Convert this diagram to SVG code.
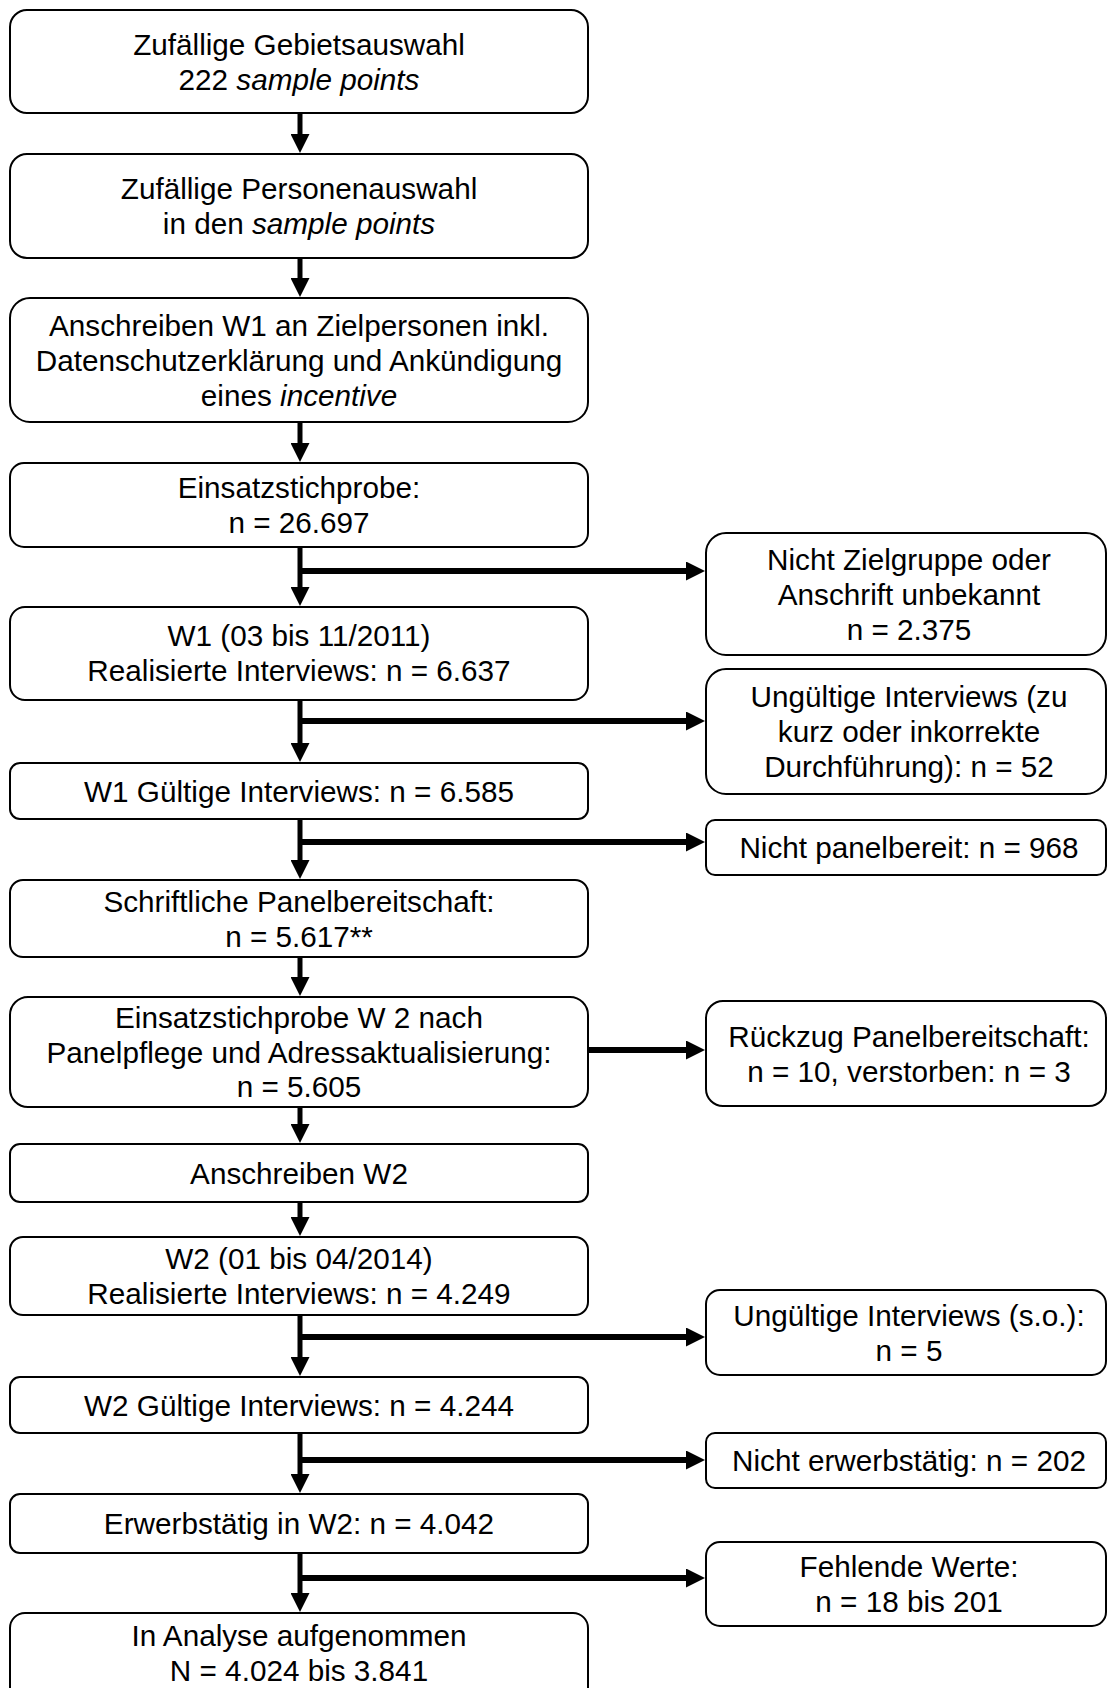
<svg xmlns="http://www.w3.org/2000/svg" width="1108" height="1688" viewBox="0 0 1108 1688">
<defs>
<style>
.box{fill:#fff;stroke:#000;stroke-width:2}
.t{font-family:"Liberation Sans",Arial,sans-serif;font-size:29.7px;fill:#000;text-anchor:middle}
.i{font-style:italic}
.c{stroke:#000;stroke-width:5;fill:none}
.h{stroke:#000;stroke-width:6;fill:none}
</style>
<marker id="ah" markerUnits="userSpaceOnUse" markerWidth="19" markerHeight="19" refX="1" refY="9.5" orient="auto" viewBox="0 0 19 19">
<path d="M0,0 L19,9.5 L0,19 z" fill="#000"/>
</marker>
</defs>
<rect width="1108" height="1688" fill="#fff"/>
<g id="connectors">
<path class="c" d="M300,113 V135" marker-end="url(#ah)"/>
<path class="c" d="M300,258 V279" marker-end="url(#ah)"/>
<path class="c" d="M300,422 V444" marker-end="url(#ah)"/>
<path class="c" d="M300,547 V588" marker-end="url(#ah)"/>
<path class="h" d="M300,571 H687" marker-end="url(#ah)"/>
<path class="c" d="M300,700 V744" marker-end="url(#ah)"/>
<path class="h" d="M300,721 H687" marker-end="url(#ah)"/>
<path class="c" d="M300,819 V861" marker-end="url(#ah)"/>
<path class="h" d="M300,842 H687" marker-end="url(#ah)"/>
<path class="c" d="M300,957 V978" marker-end="url(#ah)"/>
<path class="h" d="M588,1050 H687" marker-end="url(#ah)"/>
<path class="c" d="M300,1107 V1125" marker-end="url(#ah)"/>
<path class="c" d="M300,1202 V1218" marker-end="url(#ah)"/>
<path class="c" d="M300,1315 V1358" marker-end="url(#ah)"/>
<path class="h" d="M300,1337 H687" marker-end="url(#ah)"/>
<path class="c" d="M300,1433 V1475" marker-end="url(#ah)"/>
<path class="h" d="M300,1460 H687" marker-end="url(#ah)"/>
<path class="c" d="M300,1553 V1594" marker-end="url(#ah)"/>
<path class="h" d="M300,1578 H687" marker-end="url(#ah)"/>
</g>
<g id="n1"><rect class="box" x="10" y="10" width="578" height="103" rx="17"/>
<text class="t" x="299" y="54.5">Zufällige Gebietsauswahl</text>
<text class="t" x="299" y="89.5">222 <tspan class="i">sample points</tspan></text></g>
<g id="n2"><rect class="box" x="10" y="154" width="578" height="104" rx="17"/>
<text class="t" x="299" y="199">Zufällige Personenauswahl</text>
<text class="t" x="299" y="234">in den <tspan class="i">sample points</tspan></text></g>
<g id="n3"><rect class="box" x="10" y="298" width="578" height="124" rx="20"/>
<text class="t" x="299" y="335.5">Anschreiben W1 an Zielpersonen inkl.</text>
<text class="t" x="299" y="370.5">Datenschutzerklärung und Ankündigung</text>
<text class="t" x="299" y="405.5">eines <tspan class="i">incentive</tspan></text></g>
<g id="n4"><rect class="box" x="10" y="463" width="578" height="84" rx="14"/>
<text class="t" x="299" y="498">Einsatzstichprobe:</text>
<text class="t" x="299" y="533">n = 26.697</text></g>
<g id="n5"><rect class="box" x="10" y="607" width="578" height="93" rx="15"/>
<text class="t" x="299" y="646">W1 (03 bis 11/2011)</text>
<text class="t" x="299" y="681">Realisierte Interviews: n = 6.637</text></g>
<g id="n6"><rect class="box" x="10" y="763" width="578" height="56" rx="10"/>
<text class="t" x="299" y="801.5">W1 Gültige Interviews: n = 6.585</text></g>
<g id="n7"><rect class="box" x="10" y="880" width="578" height="77" rx="13"/>
<text class="t" x="299" y="911.5">Schriftliche Panelbereitschaft:</text>
<text class="t" x="299" y="946.5">n = 5.617**</text></g>
<g id="n8"><rect class="box" x="10" y="997" width="578" height="110" rx="18"/>
<text class="t" x="299" y="1028">Einsatzstichprobe W 2 nach</text>
<text class="t" x="299" y="1062.5">Panelpflege und Adressaktualisierung:</text>
<text class="t" x="299" y="1097">n = 5.605</text></g>
<g id="n9"><rect class="box" x="10" y="1144" width="578" height="58" rx="10"/>
<text class="t" x="299" y="1183.5">Anschreiben W2</text></g>
<g id="n10"><rect class="box" x="10" y="1237" width="578" height="78" rx="13"/>
<text class="t" x="299" y="1269">W2 (01 bis 04/2014)</text>
<text class="t" x="299" y="1304">Realisierte Interviews: n = 4.249</text></g>
<g id="n11"><rect class="box" x="10" y="1377" width="578" height="56" rx="10"/>
<text class="t" x="299" y="1415.5">W2 Gültige Interviews: n = 4.244</text></g>
<g id="n12"><rect class="box" x="10" y="1494" width="578" height="59" rx="10"/>
<text class="t" x="299" y="1534">Erwerbstätig in W2: n = 4.042</text></g>
<g id="n13"><rect class="box" x="10" y="1613" width="578" height="90" rx="15"/>
<text class="t" x="299" y="1646">In Analyse aufgenommen</text>
<text class="t" x="299" y="1681">N = 4.024 bis 3.841</text></g>
<g id="r1"><rect class="box" x="706" y="533" width="400" height="122" rx="20"/>
<text class="t" x="909" y="569.5">Nicht Zielgruppe oder</text>
<text class="t" x="909" y="604.5">Anschrift unbekannt</text>
<text class="t" x="909" y="639.5">n = 2.375</text></g>
<g id="r2"><rect class="box" x="706" y="669" width="400" height="125" rx="20"/>
<text class="t" x="909" y="707">Ungültige Interviews (zu</text>
<text class="t" x="909" y="742">kurz oder inkorrekte</text>
<text class="t" x="909" y="777">Durchführung): n = 52</text></g>
<g id="r3"><rect class="box" x="706" y="820" width="400" height="55" rx="9"/>
<text class="t" x="909" y="858">Nicht panelbereit: n = 968</text></g>
<g id="r4"><rect class="box" x="706" y="1001" width="400" height="105" rx="17"/>
<text class="t" x="909" y="1046.5">Rückzug Panelbereitschaft:</text>
<text class="t" x="909" y="1081.5">n = 10, verstorben: n = 3</text></g>
<g id="r5"><rect class="box" x="706" y="1290" width="400" height="85" rx="14"/>
<text class="t" x="909" y="1325.5">Ungültige Interviews (s.o.):</text>
<text class="t" x="909" y="1360.5">n = 5</text></g>
<g id="r6"><rect class="box" x="706" y="1433" width="400" height="55" rx="9"/>
<text class="t" x="909" y="1471">Nicht erwerbstätig: n = 202</text></g>
<g id="r7"><rect class="box" x="706" y="1542" width="400" height="84" rx="14"/>
<text class="t" x="909" y="1577">Fehlende Werte:</text>
<text class="t" x="909" y="1612">n = 18 bis 201</text></g>
</svg>
